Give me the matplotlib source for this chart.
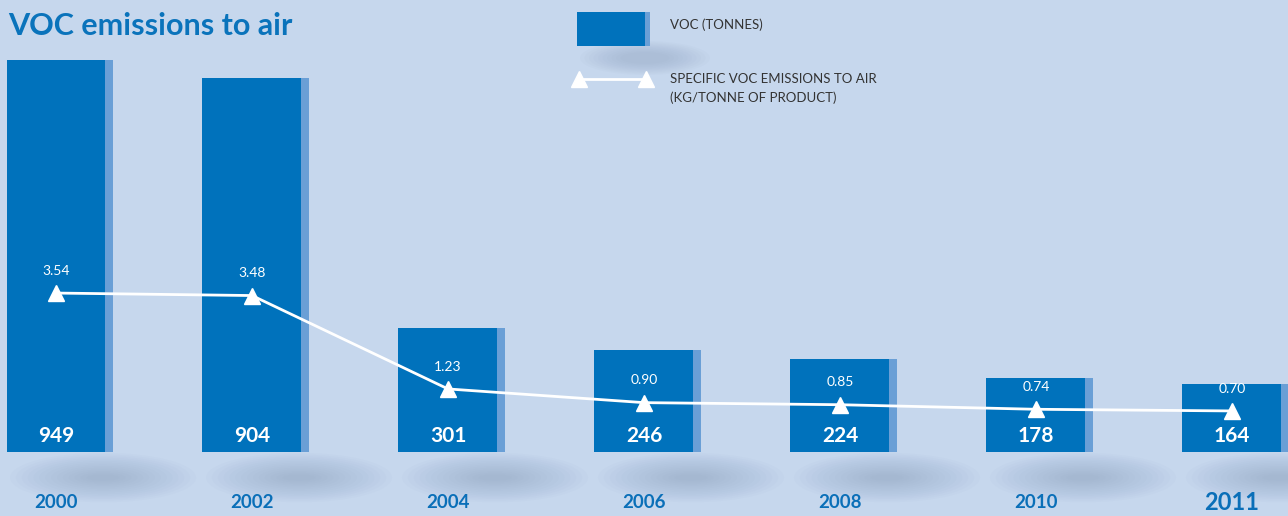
import matplotlib
matplotlib.use('Agg')
import matplotlib.pyplot as plt
from matplotlib.patches import Ellipse

plt.rcParams['font.family'] = ['Lato', 'DejaVu Sans']

years = ['2000', '2002', '2004', '2006', '2008', '2010', '2011']
voc_tonnes = [949, 904, 301, 246, 224, 178, 164]
specific_voc = [3.54, 3.48, 1.23, 0.90, 0.85, 0.74, 0.70]

bg = '#c6d7ed'
blue = '#0072bc'
side = '#6a9fd6'

fig = plt.figure(figsize=(12.88, 5.16), dpi=100)
fig.patch.set_facecolor(bg)
ax = fig.add_axes([0, 0, 1, 1])
ax.set_facecolor(bg)
ax.set_xlim(-0.2857, 6.286)
ax.set_ylim(-155, 1094)
ax.axis('off')

x = list(range(len(years)))
w = 0.505

# soft shadows below the bars (diffuse, layered)
for i in x:
    for k in range(14):
        ax.add_patch(Ellipse((i + 0.24, -62), 0.95 - k * 0.06, 120 - k * 8, angle=0,
                             facecolor='#8196b6', edgecolor='none', alpha=0.035, zorder=1))

ax.bar(x, voc_tonnes, width=w, color=blue, zorder=3)
ax.bar([i + w / 2 for i in x], voc_tonnes, width=0.04, align='edge', color=side, zorder=2)

for i, v in enumerate(voc_tonnes):
    ax.annotate(str(v), (i, 0), xytext=(0, 11.5), textcoords='offset points',
                ha='center', va='center', color='white', fontsize=15, fontweight='bold', zorder=5)
    size = 17 if years[i] == '2011' else 13.5
    ax.annotate(years[i], (i, 0), xytext=(0, -36.5), textcoords='offset points',
                ha='center', va='center', color='#0a6fb8', fontsize=size, fontweight='bold', zorder=5)

ax2 = ax.twinx()
ax2.set_position([0, 0, 1, 1])
ax2.set_ylim(-1.831, 10.60)
ax2.axis('off')
ax2.plot(x, specific_voc, color='white', lw=2, marker='^', markersize=11, zorder=6)
for i, v in enumerate(specific_voc):
    ax2.annotate('%.2f' % v, (i, v), xytext=(0, 16), textcoords='offset points',
                 ha='center', va='center', color='white', fontsize=10, zorder=7)

# title
fig.text(0.006, 0.95, 'VOC emissions to air', color='#0a73bb', fontsize=22,
         fontweight='bold', ha='left', va='center')

# legend
lx = fig.add_axes([0, 0, 1, 1])
lx.set_xlim(0, 1288)
lx.set_ylim(516, 0)
lx.axis('off')
for k in range(10):
    lx.add_patch(Ellipse((645, 58), 130 - k * 9, 34 - k * 2.5, facecolor='#8196b6',
                         edgecolor='none', alpha=0.04))
lx.add_patch(plt.Rectangle((577, 12), 68, 34, facecolor=blue, edgecolor='none'))
lx.add_patch(plt.Rectangle((645, 12), 5, 34, facecolor=side, edgecolor='none'))
lx.plot([579, 646], [79, 79], color='white', lw=2, marker='^', markersize=11)
lx.text(670, 25, 'VOC (TONNES)', color='#333333', fontsize=9.5, va='center')
lx.text(670, 79, 'SPECIFIC VOC EMISSIONS TO AIR', color='#333333', fontsize=9.5, va='center')
lx.text(670, 98, '(KG/TONNE OF PRODUCT)', color='#333333', fontsize=9.5, va='center')

fig.savefig('out.png', dpi=100, facecolor=bg)
